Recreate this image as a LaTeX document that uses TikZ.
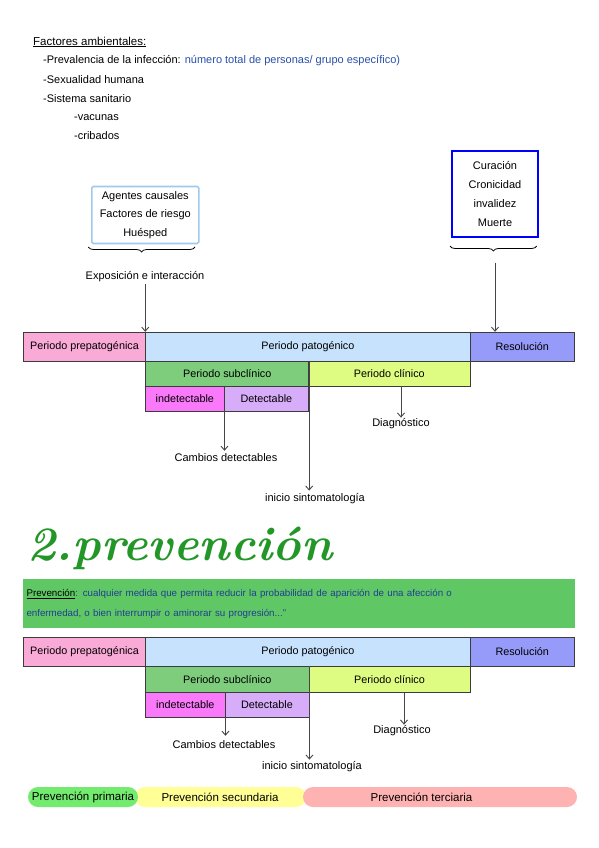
\documentclass[tikz,border=0pt]{standalone}
\usepackage{fontspec}
\newfontfamily\hand{Liberation Sans}
\usetikzlibrary{arrows.meta,decorations.pathreplacing,shapes.misc}
\definecolor{txtblue}{RGB}{40,80,170}
\definecolor{defblue}{RGB}{35,60,150}
\definecolor{boxblue}{RGB}{160,200,240}
\definecolor{curblue}{RGB}{0,0,255}
\definecolor{cprepat}{RGB}{250,170,215}
\definecolor{cpat}{RGB}{198,226,252}
\definecolor{cres}{RGB}{150,155,250}
\definecolor{csub}{RGB}{125,205,125}
\definecolor{ccli}{RGB}{222,252,130}
\definecolor{cind}{RGB}{250,120,250}
\definecolor{cdet}{RGB}{215,172,248}
\definecolor{defgreen}{RGB}{95,200,100}
\definecolor{titlegreen}{RGB}{35,150,40}
\definecolor{pprim}{RGB}{115,235,110}
\definecolor{psec}{RGB}{255,255,150}
\definecolor{pter}{RGB}{255,170,170}
\definecolor{edge}{RGB}{60,60,60}
\definecolor{arrowgray}{RGB}{70,70,70}
\begin{document}
\begin{tikzpicture}[x=1pt,y=-1pt,
  every node/.style={font=\hand\fontsize{11}{13}\selectfont},
  txt/.style={anchor=west, inner sep=0pt},
  lbl/.style={inner sep=0pt},
  bar/.style={draw=edge, line width=0.9pt, inner sep=0pt, font=\hand\fontsize{10.8}{13}\selectfont},
  arr/.style={draw=arrowgray, line width=0.9pt, -{Straight Barb[length=4pt,width=7pt]}},
  brc/.style={draw=black, line width=0.8pt, decorate, decoration={brace, mirror, amplitude=5pt}},
  pill/.style={rounded rectangle, inner sep=0pt, minimum height=20pt, font=\hand\fontsize{11.5}{13}\selectfont},
]
\fill[white] (0,0) rectangle (599,848);
\useasboundingbox (0,0) rectangle (599,848);

% header
\node[txt, font=\hand\fontsize{11.5}{13}\selectfont] (fa) at (33,42) {\underline{Factores ambientales:}};
\node[txt] (l1) at (43,61) {-Prevalencia de la infección: \textcolor{txtblue}{número total de personas/ grupo específico)}};
\node[txt] (l2) at (43,80) {-Sexualidad humana};
\node[txt] (l3) at (43,99) {-Sistema sanitario};
\node[txt] (l4) at (74,118) {-vacunas};
\node[txt] (l5) at (74,136) {-cribados};

% boxes above
\node[draw=boxblue, line width=1.6pt, rounded corners=1.5pt, minimum width=107pt, minimum height=57pt,
      align=center, inner sep=0pt, font=\hand\fontsize{11}{18.5}\selectfont] (ag) at (145.3,215)
      {Agentes causales\\Factores de riesgo\\Huésped};
\node[draw=curblue, line width=2.2pt, minimum width=86pt, minimum height=86pt,
      align=center, inner sep=0pt, font=\hand\fontsize{11}{18.7}\selectfont] (cur) at (495,194)
      {Curación\\Cronicidad\\invalidez\\Muerte};
\draw[brc] (88.3,247) -- (195,247);
\draw[brc] (450,246) -- (536.7,246);
\node[lbl] (exp) at (145,276.7) {Exposición e interacción};
\coordinate (ctip) at (495,262.7);

% timeline 1
\node[bar, fill=cprepat, minimum width=122.4pt, minimum height=28.7pt] (pre1) at (84.5,346.6) {Periodo prepatogénica};
\node[bar, fill=cpat, minimum width=324.3pt, minimum height=28.7pt] (pat1) at (307.85,346.6) {Periodo patogénico};
\node[bar, fill=cres, minimum width=104.5pt, minimum height=28.7pt] (res1) at (522.25,346.6) {Resolución};
\node[bar, fill=csub, minimum width=163pt, minimum height=25pt] (sub1) at (227.2,373.5) {Periodo subclínico};
\node[bar, fill=ccli, minimum width=161.3pt, minimum height=25pt] (cli1) at (389.35,373.5) {Periodo clínico};
\node[bar, fill=cind, minimum width=78.3pt, minimum height=25pt] (ind1) at (184.85,398.5) {indetectable};
\node[bar, fill=cdet, minimum width=84.7pt, minimum height=25pt] (det1) at (266.35,398.5) {Detectable};
\node[lbl] (cam1) at (226,458) {Cambios detectables};
\node[lbl] (ini1) at (315,499) {inicio sintomatología};
\node[lbl] (dia1) at (401,424) {Diagnóstico};

\draw[arr] ([yshift=-2pt]exp.south -| pat1.north west) -- (pat1.north west);
\draw[arr] (ctip) -- (ctip |- res1.north);
\draw[arr] (ind1.south east) -- ([yshift=3pt]ind1.south east |- cam1.north);
\draw[arr] (sub1.north east) -- ([yshift=3pt]sub1.north east |- ini1.north);
\draw[arr] (dia1.north |- cli1.south) -- ([yshift=1pt]dia1.north);

% title and definition
\node[anchor=base west, inner sep=0pt, text=titlegreen,
      font=\rmfamily\bfseries\itshape\fontsize{48}{48}\selectfont] (title) at (27,560) {2.prevención};
\node[fill=defgreen, anchor=north west, inner xsep=4pt, inner ysep=0pt, minimum height=49pt,
      text width=544pt, align=left, text=defblue, font=\hand\fontsize{9.75}{19.5}\selectfont] (def) at (22.3,579)
      {\textcolor{black}{\underline{Prevención}}: cualquier medida que permita reducir la probabilidad de aparición de una afección o\\enfermedad, o bien interrumpir o aminorar su progresión...”};

% timeline 2
\node[bar, fill=cprepat, minimum width=122.4pt, minimum height=29pt] (pre2) at (84.5,652) {Periodo prepatogénica};
\node[bar, fill=cpat, minimum width=324.3pt, minimum height=29pt] (pat2) at (307.85,652) {Periodo patogénico};
\node[bar, fill=cres, minimum width=104.5pt, minimum height=29pt] (res2) at (522.25,652) {Resolución};
\node[bar, fill=csub, minimum width=163.3pt, minimum height=26pt] (sub2) at (227.35,679.7) {Periodo subclínico};
\node[bar, fill=ccli, minimum width=161pt, minimum height=26pt] (cli2) at (389.5,679.7) {Periodo clínico};
\node[bar, fill=cind, minimum width=79.3pt, minimum height=24.6pt] (ind2) at (185.35,705) {indetectable};
\node[bar, fill=cdet, minimum width=84pt, minimum height=24.6pt] (det2) at (267,705) {Detectable};
\node[lbl] (cam2) at (224,745) {Cambios detectables};
\node[lbl] (ini2) at (312,767) {inicio sintomatología};
\node[lbl] (dia2) at (402,731) {Diagnóstico};

\draw[arr] (ind2.south east) -- ([yshift=5pt]ind2.south east |- cam2.north);
\draw[arr] (sub2.north east) -- ([yshift=2pt]sub2.north east |- ini2.north);
\draw[arr] ([xshift=2pt]dia2.north |- cli2.south) -- ([xshift=2pt,yshift=1pt]dia2.north);

% prevention pills
\node[pill, fill=psec, minimum width=171pt] (psec) at (220.5,797) {};
\node[pill, fill=pprim, minimum width=110pt] (pprim) at (83,797) {Prevención primaria};
\node[pill, fill=pter, fill opacity=0.9, text opacity=1, minimum width=274pt] (pter) at (440,797) {};
\node[lbl, font=\hand\fontsize{11.5}{13}\selectfont] (psecl) at (220,797) {Prevención secundaria};
\node[lbl, font=\hand\fontsize{11.5}{13}\selectfont] (pterl) at (421.5,797) {Prevención terciaria};
\end{tikzpicture}
\end{document}
